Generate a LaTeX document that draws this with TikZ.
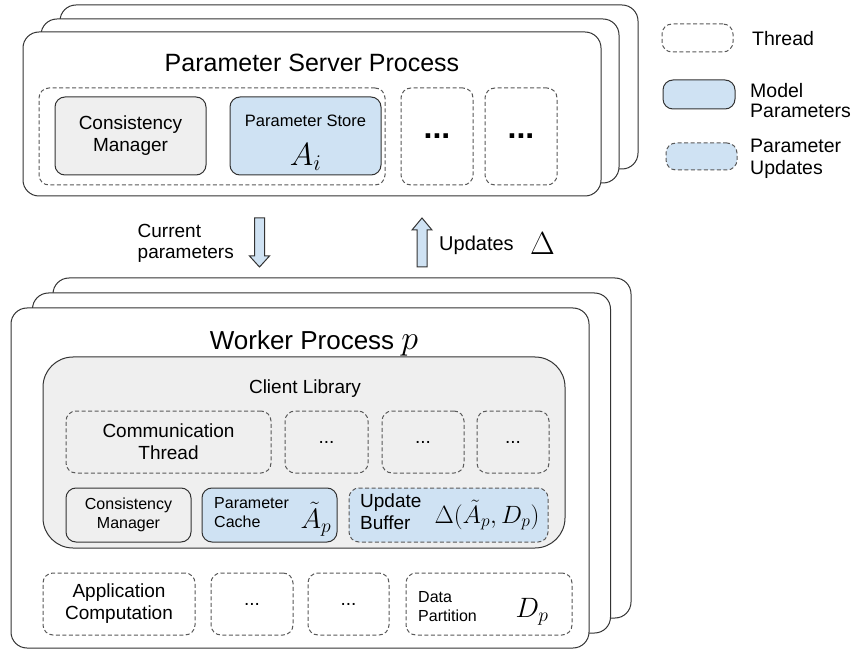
\RequirePackage{fix-cm}
\documentclass[tikz,border=0pt]{standalone}
\usepackage[no-math]{fontspec}
\setmainfont{Liberation Sans}
\usepackage{amsmath}
\usetikzlibrary{positioning}
\definecolor{pblue}{HTML}{CFE2F3}
\definecolor{lgray}{HTML}{EFEFEF}
\definecolor{dline}{HTML}{595959}
\definecolor{sline}{HTML}{333333}
\newcommand{\fsz}[2]{\fontsize{#1}{#2}\selectfont}
\tikzset{
  card/.style={draw=sline, fill=white, line width=1pt, rounded corners=16pt, minimum width=578pt, inner sep=0pt},
  thread/.style={draw=dline, line width=1pt, dash pattern=on 4pt off 2.5pt, rounded corners=10pt, inner sep=0pt, align=center},
  model/.style={draw=sline, fill=pblue, line width=1pt, rounded corners=10pt, inner sep=0pt},
  update/.style={thread, fill=pblue},
  mgr/.style={draw=sline, fill=lgray, line width=1pt, rounded corners=10pt, inner sep=0pt, align=center},
  lbl/.style={inner sep=0pt, align=left},
  f16/.style={font={\fsz{16pt}{19pt}}},
  f19/.style={font={\fsz{19pt}{22pt}}},
  blockarr/.style={draw=sline, fill=pblue, line width=1pt, line join=miter},
}

\begin{document}
\begin{tikzpicture}[x=1pt, y=-1pt]
\useasboundingbox (0,0) rectangle (857,652);
% parameter server, three stacked processes
\node[card, minimum height=164pt] (srvback) at (349,87) {};
\node[card, minimum height=164pt] (srvmid) at (330,101) {};
\node[card, minimum height=164pt] (srvfront) at (312,114) {};
\node[lbl, anchor=base, font={\fsz{25pt}{30pt}}] (srvtitle) at (312,72) {Parameter Server Process};
\node[thread, minimum width=346pt, minimum height=97pt] (srvgrp) at (212,136.5) {};
\node[mgr, f19, minimum width=151pt, minimum height=78pt] (srvcm) at (130.5,136) {Consistency\\Manager};
\node[model, minimum width=151pt, minimum height=78pt] (srvstore) at (305.5,136) {};
\node[lbl, font={\fsz{16.5pt}{20pt}}] (storetxt) at (305.5,121) {Parameter Store};
\node[lbl, anchor=base] (storeA) at (305.5,166) {\fsz{32pt}{36pt}$A_i$};
\node[thread, minimum width=72pt, minimum height=97pt, font={\fsz{32pt}{36pt}\bfseries}] (srvt1) at (437,136.5) {...};
\node[thread, minimum width=72pt, minimum height=97pt, font={\fsz{32pt}{36pt}\bfseries}] (srvt2) at (521,136.5) {...};

% legend
\node[thread, minimum width=71pt, minimum height=28pt] (lgthread) at (697.5,38) {};
\node[lbl, anchor=west, font={\fsz{19.5pt}{22pt}}] (lgthreadtxt) at (752,39) {Thread};
\node[model, minimum width=72pt, minimum height=29pt] (lgmodel) at (699,94.5) {};
\node[lbl, anchor=west, font={\fsz{19.5pt}{20pt}}] (lgmodeltxt) at (750,101) {Model\\Parameters};
\node[update, minimum width=71pt, minimum height=27pt] (lgupd) at (701.5,156.5) {};
\node[lbl, anchor=west, font={\fsz{19.5pt}{22pt}}] (lgupdtxt) at (750,159) {Parameter\\Updates};

% traffic between server and workers
\draw[blockarr] (254.5,218) -- (264.5,218) -- (264.5,256) -- (269.5,256) -- (259.5,267) -- (249.5,256) -- (254.5,256) -- cycle;
\node[lbl, anchor=east, font={\fsz{19pt}{21pt}}] (curtxt) at (234,243) {Current\\parameters};
\draw[blockarr] (417,267) -- (427,267) -- (427,230) -- (432,230) -- (422,218) -- (412,230) -- (417,230) -- cycle;
\node[lbl, anchor=west, font={\fsz{20pt}{24pt}}] (updtxt) at (439,245) {Updates};
\node[lbl] (updelta) at (542.5,244) {\fsz{32pt}{36pt}$\Delta$};

% worker processes
\node[card, minimum height=340pt] (wrkback) at (342,448) {};
\node[card, minimum height=340pt] (wrkmid) at (321.5,463) {};
\node[card, minimum height=340pt] (wrkfront) at (300,478) {};
\node[lbl, anchor=base, font={\fsz{26pt}{30pt}}] (wrktitle) at (314,350) {Worker Process {\fsz{34pt}{36pt}$p$}};

\node[mgr, rounded corners=30pt, minimum width=522pt, minimum height=191pt] (client) at (304,452.5) {};
\node[lbl, anchor=base, f19] (clienttxt) at (305,393) {Client Library};
\node[thread, f19, minimum width=205pt, minimum height=62pt] (commthr) at (168.5,442) {Communication\\Thread};
\node[thread, f19, minimum width=83pt, minimum height=62pt] (clt1) at (326.5,442) {...};
\node[thread, f19, minimum width=82pt, minimum height=62pt] (clt2) at (423,442) {...};
\node[thread, f19, minimum width=72pt, minimum height=62pt] (clt3) at (513,442) {...};

\node[mgr, f16, minimum width=125pt, minimum height=54pt] (clcm) at (128.5,515) {Consistency\\Manager};
\node[model, minimum width=135pt, minimum height=54pt] (cache) at (269.5,515) {};
\node[lbl, anchor=west, f16] (cachetxt) at (214,513) {Parameter\\Cache};
\node[lbl, anchor=base] (cacheA) at (316,528) {\fsz{28pt}{30pt}$\tilde{A}_p$};
\node[update, minimum width=199pt, minimum height=54pt] (buffer) at (448.5,515) {};
\node[lbl, anchor=west, f19] (buffertxt) at (360,512) {Update\\Buffer};
\node[lbl, anchor=base] (bufferD) at (487,523) {\fsz{25pt}{28pt}$\Delta(\tilde{A}_p, D_p)$};

\node[thread, f19, minimum width=152pt, minimum height=62pt] (appcomp) at (119,604) {Application\\Computation};
\node[thread, f19, minimum width=82pt, minimum height=62pt] (wt1) at (252,604) {...};
\node[thread, f19, minimum width=81pt, minimum height=62pt] (wt2) at (348.5,604) {...};
\node[thread, minimum width=166pt, minimum height=62pt] (datapart) at (489,604) {};
\node[lbl, anchor=west, f16] (datatxt) at (418,607) {Data\\Partition};
\node[lbl, anchor=base] (dataD) at (532,617) {\fsz{28pt}{30pt}$D_p$};
\end{tikzpicture}
\end{document}
